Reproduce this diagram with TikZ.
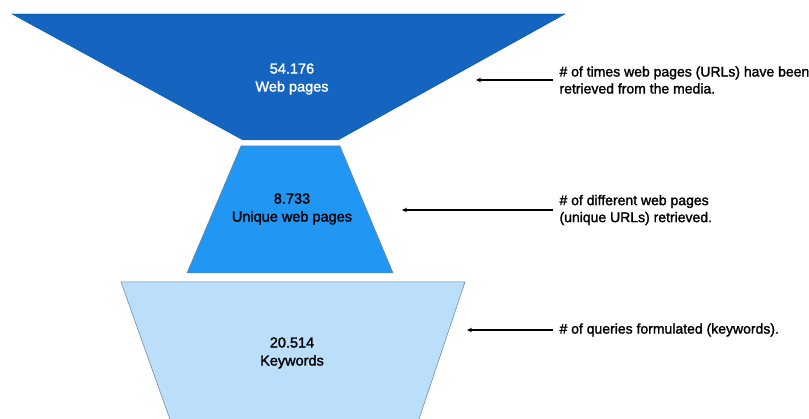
\documentclass[tikz,border=0pt]{standalone}
\usepackage{fontspec}
\setmainfont{Liberation Sans}[FakeBold=1.6]
\usetikzlibrary{arrows.meta}
\definecolor{tierA}{HTML}{1565C0}
\definecolor{tierB}{HTML}{2196F3}
\definecolor{tierC}{HTML}{BBDEFB}
\definecolor{rim}{HTML}{6A7F99}
\begin{document}
\begin{tikzpicture}[x=1pt,y=-1pt,
  tier/.style={draw=rim, line width=0.5pt},
  count/.style={align=center, font=\fontsize{14.5}{18}\selectfont},
  note/.style={anchor=west, align=left, font=\fontsize{14}{17}\selectfont},
  pointer/.style={line width=1.5pt, -{Stealth[length=5pt,width=4.5pt]}}]
\useasboundingbox[fill=white] (0,0) rectangle (809,419);

% funnel tiers
\fill[tierA] (12,14) -- (565,14) -- (338,140) -- (243,140) -- cycle;
\draw[tierA!80!black, line width=0.4pt] (12,14) -- (565,14) -- (338,140) -- (243,140) -- cycle;
\path[tier, fill=tierB] (241,146) -- (340,146) -- (393,273) -- (187,273) -- cycle;
\path[tier, fill=tierC] (121,282) -- (465,282) -- (417,425) -- (172,425) -- cycle;

% tier labels
\node[count, text=white] (n1) at (292,79) {54.176\\Web pages};
\node[count, text=black] (n2) at (292,209) {8.733\\Unique web pages};
\node[count, text=black] (n3) at (292,353) {20.514\\Keywords};

% annotations
\node[note] (d1) at (556,80) {\# of times web pages (URLs) have been\\retrieved from the media.};
\node[note] (d2) at (556,210) {\# of different web pages\\(unique URLs) retrieved.};
\node[note] (d3) at (556,330) {\# of queries formulated (keywords).};

\coordinate (s1) at (553,80);  \coordinate (e1) at (476,80);
\coordinate (s2) at (553,210); \coordinate (e2) at (402,210);
\coordinate (s3) at (553,330); \coordinate (e3) at (467,330);

\draw[pointer] (s1) -- (e1);
\draw[pointer] (s2) -- (e2);
\draw[pointer] (s3) -- (e3);
\end{tikzpicture}
\end{document}
